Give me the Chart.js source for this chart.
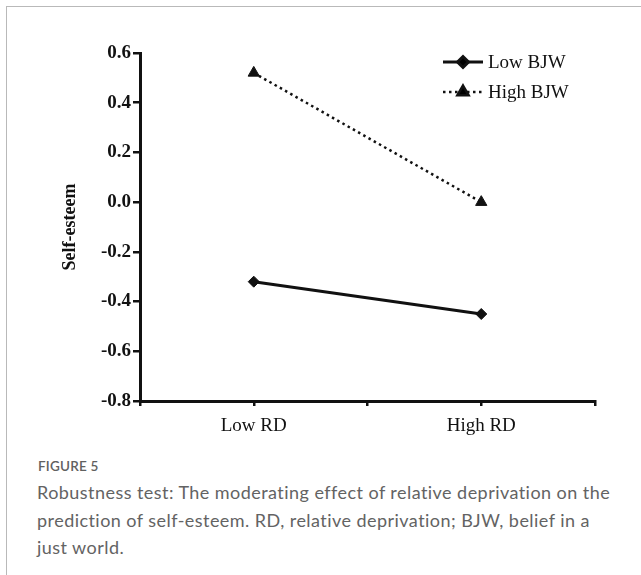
<!DOCTYPE html>
<html>
<head>
<meta charset="utf-8">
<script src="https://cdn.jsdelivr.net/npm/chart.js@4.4.1/dist/chart.umd.min.js"></script>
<style>
  html, body { margin: 0; padding: 0; background: #fff; }
  body { width: 641px; height: 575px; position: relative; overflow: hidden; }
  #frame { position: absolute; left: 6px; top: 6px; right: -2px; bottom: -2px;
           border-left: 1.5px solid #b9b9b9; border-top: 1.5px solid #b9b9b9; }
  #wrap { position: absolute; left: 0; top: 0; width: 641px; height: 445px; }
  #figLabel { position: absolute; left: 38px; top: 458px; font: 600 13.5px Lato, "Open Sans", sans-serif;
              color: #606060; letter-spacing: 0.2px; }
  #caption { position: absolute; left: 37px; top: 479px; white-space: nowrap; font: 400 18px Lato, "Open Sans", sans-serif;
             line-height: 27.5px; color: #636363; letter-spacing: 0.45px; }
</style>
</head>
<body>
<div id="frame"></div>
<div id="wrap"><canvas id="chart"></canvas></div>
<div id="figLabel">FIGURE 5</div>
<div id="caption">Robustness test: The moderating effect of relative deprivation on the<br>prediction of self-esteem. RD, relative deprivation; BJW, belief in a<br>just world.</div>

<script>
// ---------------- DATA ----------------
const categories = ['Low RD', 'High RD'];
const lowBJW = [-0.32, -0.45];
const highBJW = [0.52, 0.00];
const yTicks = [-0.8, -0.6, -0.4, -0.2, 0.0, 0.2, 0.4, 0.6];

const serif = '"Liberation Serif", "Times New Roman", serif';
const ink = '#111';

// categories sit on every other tick of a 0..4 axis
function toPoints(values) {
    return values.map((v, i) => ({ x: 2 * i + 1, y: v }));
}

// ---------- LEGEND DRAWN WITH LINE SAMPLE + MARKER ----------
const lineLegend = {
    id: 'lineLegend',
    afterDraw(chart) {
        const ctx = chart.ctx;
        const area = chart.chartArea;
        const x0 = area.right - 152;
        let y = area.top + 9;
        chart.data.datasets.forEach(ds => {
            ctx.save();
            ctx.strokeStyle = ds.borderColor;
            ctx.lineWidth = ds.borderWidth;
            ctx.setLineDash(ds.borderDash || []);
            ctx.beginPath();
            ctx.moveTo(x0, y);
            ctx.lineTo(x0 + 40, y);
            ctx.stroke();
            ctx.setLineDash([]);
            Chart.helpers.drawPoint(ctx, {
                pointStyle: ds.pointStyle,
                radius: ds.pointRadius,
                borderWidth: 1
            }, x0 + 20, y);
            ctx.fillStyle = ink;
            ctx.font = '19px ' + serif;
            ctx.textBaseline = 'middle';
            ctx.fillText(ds.label, x0 + 45, y + 1);
            ctx.restore();
            y += 30;
        });
    }
};

new Chart(document.getElementById('chart'), {
    type: 'line',
    data: {
        datasets: [{
            label: 'Low BJW',
            data: toPoints(lowBJW),
            borderColor: ink,
            backgroundColor: ink,
            borderWidth: 3,
            pointStyle: 'rectRot',
            pointRadius: 5.5,
            pointBorderWidth: 1,
            pointBackgroundColor: ink,
            pointBorderColor: ink
        }, {
            label: 'High BJW',
            data: toPoints(highBJW),
            borderColor: ink,
            backgroundColor: ink,
            borderWidth: 2.5,
            borderDash: [2.5, 3.5],
            pointStyle: 'triangle',
            pointRadius: 6.5,
            pointBorderWidth: 1,
            pointBackgroundColor: ink,
            pointBorderColor: ink
        }]
    },
    options: {
        responsive: true,
        maintainAspectRatio: false,
        animation: false,
        layout: { padding: { top: 53, right: 46, left: 0, bottom: 0 } },
        plugins: {
            legend: { display: false },
            tooltip: { enabled: false }
        },
        scales: {
            x: {
                type: 'linear',
                min: 0,
                max: 4,
                afterBuildTicks: axis => { axis.ticks = [0, 1, 2, 3, 4].map(v => ({ value: v })); },
                afterFit: axis => { axis.height = 44; },
                border: { color: ink, width: 3 },
                grid: { drawOnChartArea: false, drawTicks: true, tickLength: 5, color: ink, lineWidth: 2.5 },
                ticks: {
                    padding: 9,
                    color: ink,
                    font: { family: serif, size: 19 },
                    callback: v => (v % 2 === 1 ? categories[(v - 1) / 2] : '')
                }
            },
            y: {
                min: -0.8,
                max: 0.6,
                afterBuildTicks: axis => { axis.ticks = yTicks.map(v => ({ value: v })); },
                afterFit: axis => { axis.width = 140; },
                border: { color: ink, width: 3 },
                grid: { drawOnChartArea: false, drawTicks: true, tickLength: 7, color: ink, lineWidth: 2.5 },
                ticks: {
                    padding: 2,
                    color: ink,
                    font: { family: serif, size: 19, weight: 'bold' },
                    callback: v => v.toFixed(1)
                },
                title: {
                    display: true,
                    text: 'Self-esteem',
                    color: ink,
                    font: { family: serif, size: 18, weight: 'bold' },
                    padding: { top: 60, bottom: 0 }
                }
            }
        }
    },
    plugins: [lineLegend]
});
</script>
</body>
</html>
